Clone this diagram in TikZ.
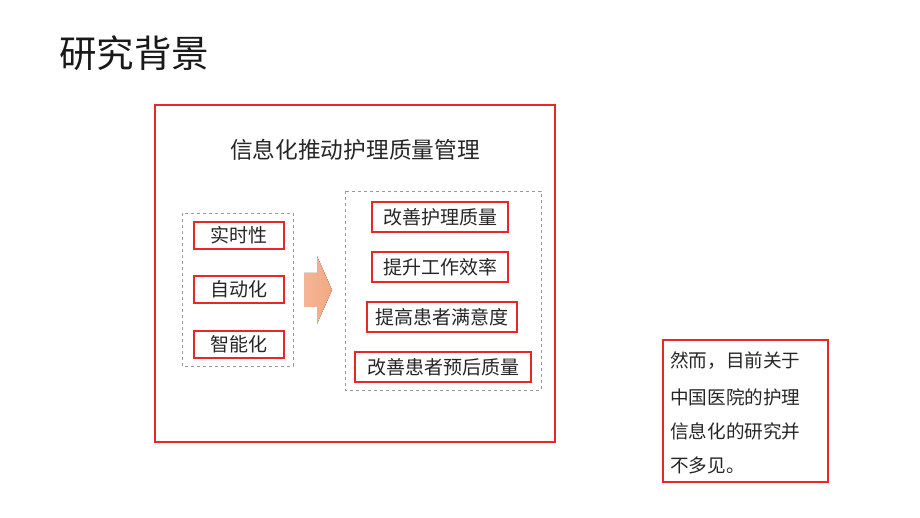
\documentclass[tikz,border=0pt]{standalone}
\usepackage{fontspec}
\setmainfont{Noto Sans CJK SC}
\newfontfamily\cjk{Noto Sans CJK SC}
\definecolor{boxred}{RGB}{232,40,40}
\definecolor{arrowc}{RGB}{242,168,130}
\begin{document}
\begin{tikzpicture}[x=1pt,y=-1pt,
  redbox/.style={draw=boxred,line width=1.3pt,fill=white},
  item/.style={draw=boxred,line width=1.2pt,inner sep=0pt,font=\cjk\fontsize{19}{20}\selectfont,text=black!85},
  dbox/.style={draw=gray!80,dashed,line width=0.8pt},
  txt/.style={font=\cjk\fontsize{18.6}{20}\selectfont,anchor=west,inner sep=0pt,text=black!85}]
\useasboundingbox (0,0) rectangle (920,518);
\node[anchor=west,inner sep=0pt,font=\cjk\fontsize{37.5}{40}\selectfont,text=black!90] (title) at (59,53) {研究背景};
\draw[redbox] (155,105) rectangle (555,442);
\node[inner sep=0pt,font=\cjk\fontsize{22.7}{24}\selectfont,text=black!85] (sub) at (355,150) {信息化推动护理质量管理};
\draw[dbox] (182,213) rectangle (293,366);
\node[item,minimum width=90pt,minimum height=27pt] (a1) at (239,235.5) {实时性};
\node[item,minimum width=90pt,minimum height=27pt] (a2) at (239,289.5) {自动化};
\node[item,minimum width=90pt,minimum height=27pt] (a3) at (239,344.5) {智能化};
\fill[left color=arrowc!85,right color=arrowc] (304,273) -- (317,273) -- (317,256) -- (332,290) -- (317,324) -- (317,307) -- (304,307) -- cycle;
\draw[dbox] (345,191) rectangle (541,390);
\node[item,minimum width=136pt,minimum height=30pt] (b1) at (440,217) {改善护理质量};
\node[item,minimum width=136pt,minimum height=30pt] (b2) at (440,267) {提升工作效率};
\node[item,minimum width=150pt,minimum height=30pt] (b3) at (442,317) {提高患者满意度};
\node[item,minimum width=176pt,minimum height=30pt] (b4) at (443,367) {改善患者预后质量};
\draw[redbox] (663,340) rectangle (828,482);
\node[txt] (t1) at (670,361) {然而，目前关于};
\node[txt] (t2) at (670,397) {中国医院的护理};
\node[txt] (t3) at (670,431) {信息化的研究并};
\node[txt] (t4) at (670,465) {不多见。};
\end{tikzpicture}
\end{document}
